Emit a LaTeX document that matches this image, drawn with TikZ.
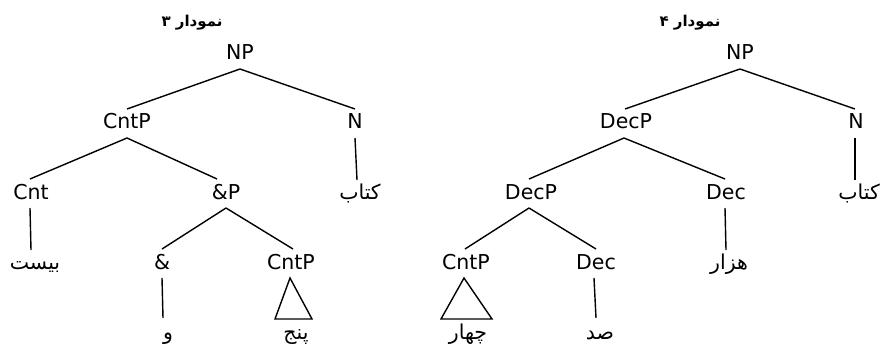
\documentclass[tikz,border=0pt]{standalone}
\usepackage{fontspec}
\setmainfont{DejaVu Sans}
\newfontfamily\fa[Script=Arabic]{DejaVu Sans}
\TeXXeTstate=1
\begin{document}
\begin{tikzpicture}[x=1pt,y=-1pt,
  lab/.style={anchor=base,inner sep=0pt,font=\fontsize{20.5}{22}\selectfont},
  fal/.style={anchor=base,inner sep=0pt,font=\fontsize{20.5}{22}\selectfont\fa},
  ttl/.style={anchor=base,inner sep=0pt,font=\fontsize{15}{17}\selectfont\fa\bfseries},
  br/.style={line width=1.4pt,black},
  tri/.style={line width=1.4pt,black,line join=miter}]
\useasboundingbox (0,0) rectangle (880,343);
% ---------- tree 3 ----------
\node[ttl] (t3) at (192,26) {\beginR نمودار ۳\endR};
\node[lab] (np1) at (240,59) {NP};
\node[lab] (cntp1) at (127,128) {CntP};
\node[lab] (n1) at (355,128) {N};
\node[lab] (cnt1) at (31,199) {Cnt};
\node[lab] (andp) at (226,199) {\&P};
\node[fal] (ktb1) at (360,199) {\beginR کتاب\endR};
\node[fal] (bist) at (35,269) {\beginR بیست\endR};
\node[lab] (amp) at (162,269) {\&};
\node[lab] (cntp2) at (291,269) {CntP};
\node[fal] (va) at (168,339) {\beginR و\endR};
\node[fal] (panj) at (296,339) {\beginR پنج\endR};
\draw[br] ([yshift=-10pt]np1.base) -- ([yshift=19pt]cntp1.base);
\draw[br] ([yshift=-10pt]np1.base) -- ([yshift=19pt]n1.base);
\draw[br] ([yshift=-10pt]n1.base) -- ([xshift=-3pt,yshift=19pt]ktb1.base);
\draw[br] ([yshift=-10pt]cntp1.base) -- ([xshift=-1pt,yshift=20pt]cnt1.base);
\draw[br] ([yshift=-10pt]cntp1.base) -- ([xshift=-9pt,yshift=20pt]andp.base);
\draw[br] ([xshift=-1pt,yshift=-9pt]cnt1.base) -- ([xshift=-4pt,yshift=19pt]bist.base);
\draw[br] ([yshift=-9pt]andp.base) -- ([yshift=20pt]amp.base);
\draw[br] ([yshift=-9pt]andp.base) -- ([xshift=2pt,yshift=20pt]cntp2.base);
\draw[br] ([yshift=-9pt]amp.base) -- ([xshift=-5pt,yshift=21pt]va.base);
\draw[tri] ([xshift=-1pt,yshift=-9pt]cntp2.base) -- ([xshift=-21pt,yshift=20pt]panj.base) -- ([xshift=16pt,yshift=20pt]panj.base) -- cycle;
% ---------- tree 4 ----------
\node[ttl] (t4) at (690,26) {\beginR نمودار ۴\endR};
\node[lab] (np2) at (740,59) {NP};
\node[lab] (decp1) at (626,128) {DecP};
\node[lab] (n2) at (856,128) {N};
\node[lab] (decp2) at (531,199) {DecP};
\node[lab] (dec1) at (726,199) {Dec};
\node[fal] (ktb2) at (859,199) {\beginR کتاب\endR};
\node[lab] (cntp3) at (466,269) {CntP};
\node[lab] (dec2) at (596,269) {Dec};
\node[fal] (hezar) at (729,269) {\beginR هزار\endR};
\node[fal] (chahar) at (468,339) {\beginR چهار\endR};
\node[fal] (sad) at (600,339) {\beginR صد\endR};
\draw[br] ([yshift=-10pt]np2.base) -- ([xshift=-1pt,yshift=19pt]decp1.base);
\draw[br] ([yshift=-10pt]np2.base) -- ([xshift=-1pt,yshift=19pt]n2.base);
\draw[br] ([xshift=-1pt,yshift=-10pt]n2.base) -- ([xshift=-4pt,yshift=19pt]ktb2.base);
\draw[br] ([xshift=-2pt,yshift=-10pt]decp1.base) -- ([xshift=-2pt,yshift=20pt]decp2.base);
\draw[br] ([xshift=-2pt,yshift=-10pt]decp1.base) -- ([xshift=-1pt,yshift=20pt]dec1.base);
\draw[br] ([xshift=-1pt,yshift=-9pt]dec1.base) -- ([xshift=-3pt,yshift=19pt]hezar.base);
\draw[br] ([xshift=-2pt,yshift=-9pt]decp2.base) -- ([xshift=-1pt,yshift=20pt]cntp3.base);
\draw[br] ([xshift=-2pt,yshift=-9pt]decp2.base) -- ([yshift=20pt]dec2.base);
\draw[br] ([xshift=-2pt,yshift=-9pt]dec2.base) -- ([xshift=-4pt,yshift=21pt]sad.base);
\draw[tri] ([xshift=-2pt,yshift=-9pt]cntp3.base) -- ([xshift=-27pt,yshift=20pt]chahar.base) -- ([xshift=24pt,yshift=20pt]chahar.base) -- cycle;
\end{tikzpicture}
\end{document}
